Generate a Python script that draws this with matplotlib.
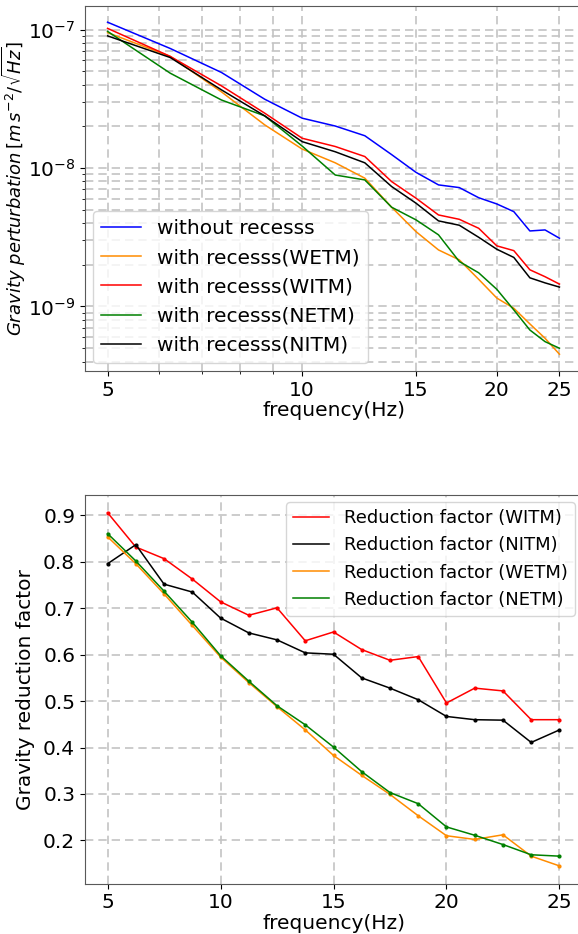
import matplotlib
matplotlib.use("Agg")
import matplotlib.pyplot as plt
from matplotlib.ticker import ScalarFormatter, NullFormatter

# frequencies (Hz)
freq = [5, 6.25, 7.5, 8.75, 10, 11.25, 12.5, 13.75, 15, 16.25, 17.5, 18.75, 20, 21.25, 22.5, 23.75, 25]

# gravity perturbation [m s^-2 / sqrt(Hz)]
without_recess = [1.13e-7, 7.3e-8, 4.9e-8, 3.14e-8, 2.29e-8, 2.01e-8, 1.71e-8, 1.25e-8, 9.3e-9,
                  7.55e-9, 7.22e-9, 6.1e-9, 5.5e-9, 4.84e-9, 3.51e-9, 3.57e-9, 3.11e-9]
recess_wetm = [9.5e-8, 6.4e-8, 3.55e-8, 2.05e-8, 1.37e-8, 1.09e-8, 8.44e-9, 5.21e-9, 3.47e-9,
               2.56e-9, 2.17e-9, 1.57e-9, 1.15e-9, 9.7e-10, 7.48e-10, 5.89e-10, 4.52e-10]
recess_witm = [1.02e-7, 6.4e-8, 3.92e-8, 2.49e-8, 1.64e-8, 1.43e-8, 1.21e-8, 7.98e-9, 6.05e-9,
               4.58e-9, 4.26e-9, 3.67e-9, 2.74e-9, 2.53e-9, 1.84e-9, 1.64e-9, 1.45e-9]
recess_netm = [9.7e-8, 4.84e-8, 3.1e-8, 2.38e-8, 1.44e-8, 8.9e-9, 8.2e-9, 5.21e-9, 4.22e-9,
               3.29e-9, 2.11e-9, 1.75e-9, 1.33e-9, 9.44e-10, 6.76e-10, 5.57e-10, 4.99e-10]
recess_nitm = [9.0e-8, 6.28e-8, 3.67e-8, 2.38e-8, 1.55e-8, 1.31e-8, 1.09e-8, 7.35e-9, 5.57e-9,
               4.15e-9, 3.86e-9, 3.16e-9, 2.59e-9, 2.26e-9, 1.61e-9, 1.48e-9, 1.38e-9]

# reduction factors
red_witm = [0.906, 0.832, 0.807, 0.763, 0.714, 0.685, 0.701, 0.630, 0.649, 0.611, 0.588, 0.596,
            0.496, 0.528, 0.522, 0.460, 0.460]
red_nitm = [0.796, 0.837, 0.752, 0.735, 0.679, 0.647, 0.632, 0.604, 0.601, 0.550, 0.528, 0.503,
            0.467, 0.460, 0.459, 0.411, 0.438]
red_wetm = [0.854, 0.796, 0.731, 0.663, 0.595, 0.540, 0.488, 0.438, 0.383, 0.340, 0.299, 0.253,
            0.210, 0.202, 0.212, 0.166, 0.145]
red_netm = [0.861, 0.802, 0.737, 0.670, 0.598, 0.543, 0.490, 0.449, 0.401, 0.348, 0.303, 0.279,
            0.229, 0.211, 0.191, 0.169, 0.166]

fs = 14.5
plt.rcParams['font.size'] = fs
grid_style = dict(ls=(0, (5, 3)), color='#c4c4c4', lw=1.2)

fig = plt.figure(figsize=(5.78, 9.34), dpi=100)

# top panel: spectra on log-log axes
ax1 = fig.add_axes([0.147, 0.603, 0.86, 0.391])
ax1.plot(freq, without_recess, color='b', lw=1.1, label='without recesss')
ax1.plot(freq, recess_wetm, color='darkorange', lw=1.1, label='with recesss(WETM)')
ax1.plot(freq, recess_witm, color='r', lw=1.1, label='with recesss(WITM)')
ax1.plot(freq, recess_netm, color='g', lw=1.1, label='with recesss(NETM)')
ax1.plot(freq, recess_nitm, color='k', lw=1.1, label='with recesss(NITM)')
ax1.set_xscale('log')
ax1.set_yscale('log')
ax1.set_xticks([5, 10, 15, 20, 25])
ax1.xaxis.set_major_formatter(ScalarFormatter())
ax1.xaxis.set_minor_formatter(NullFormatter())
ax1.grid(True, which='both', **grid_style)
ax1.set_xlabel('frequency(Hz)', labelpad=1)
ax1.set_ylabel(r'$Gravity\ perturbation\,[m\,s^{-2}/\sqrt{Hz}]$', fontsize=13)
ax1.yaxis.set_label_coords(-0.114, 0.5)
ax1.legend(loc='lower left', fontsize=fs, borderaxespad=0.4)

# bottom panel: reduction factors
ax2 = fig.add_axes([0.147, 0.054, 0.86, 0.416])
series = [(red_witm, 'r', 'Reduction factor (WITM)'),
          (red_nitm, 'k', 'Reduction factor (NITM)'),
          (red_wetm, 'darkorange', 'Reduction factor (WETM)'),
          (red_netm, 'g', 'Reduction factor (NETM)')]
for vals, c, lab in series:
    ax2.plot(freq, vals, color=c, lw=1.1, label=lab)
    ax2.plot(freq, vals, ls='none', marker='.', ms=4, color=c)
ax2.set_xticks([5, 10, 15, 20, 25])
ax2.grid(True, **grid_style)
ax2.set_xlabel('frequency(Hz)', labelpad=1)
ax2.set_ylabel('Gravity reduction factor', labelpad=6)
ax2.legend(loc='upper right', fontsize=13, borderaxespad=0.4)

for ax in (ax1, ax2):
    for s in ax.spines.values():
        s.set_color('0.35')

fig.savefig('out.png', dpi=100)
